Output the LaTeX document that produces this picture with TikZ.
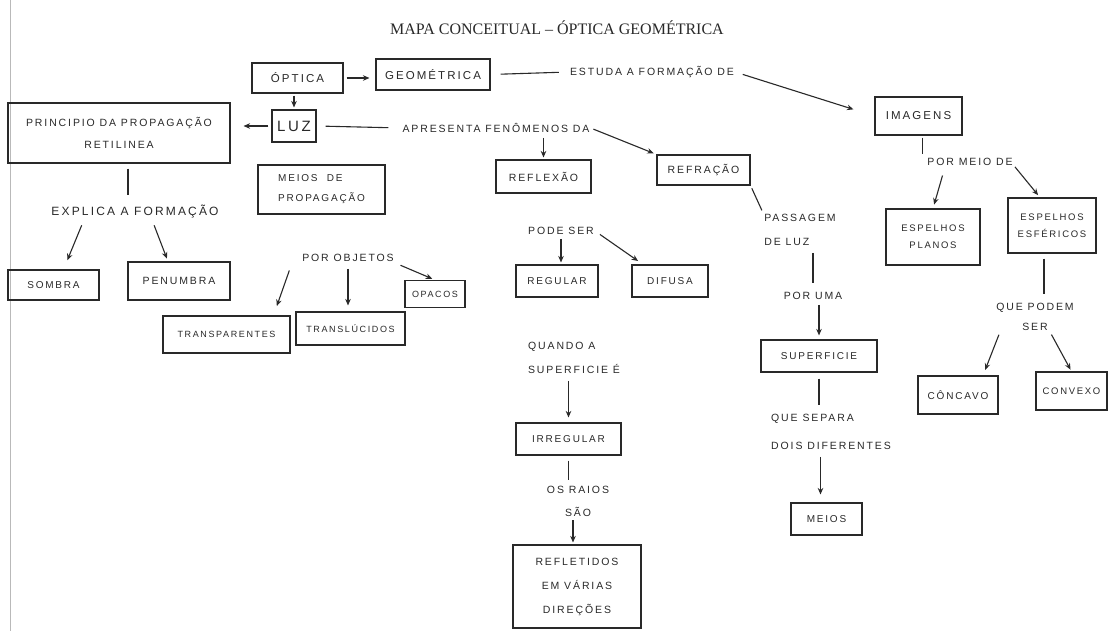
\documentclass[tikz,border=0pt]{standalone}
\usepackage{fontspec}
\setmainfont{Liberation Serif}
\newfontfamily\hand[LetterSpace=18]{Liberation Sans}
\usetikzlibrary{arrows.meta,calc}
\definecolor{ink}{gray}{0.16}
\tikzset{
  box/.style={draw=ink, line width=1.1pt, text=ink, font=\hand\fontsize{11.5}{14}\selectfont, inner sep=2pt, align=center},
  lbl/.style={text=ink, font=\hand\fontsize{10.5}{13}\selectfont, inner sep=1pt, align=center},
  lnk/.style={draw=ink, line width=1.1pt},
  arr/.style={draw=ink, line width=1.1pt, -{Stealth[length=6.5pt,width=5.5pt]}},
}
\begin{document}
\begin{tikzpicture}[x=1pt,y=-1pt]
\useasboundingbox[fill=white] (0,0) rectangle (1109,631);
\draw[gray!55, line width=1pt] (10,0) -- (10,631);
\node[font=\fontsize{16}{19}\selectfont, text=ink] (title) at (557,28) {MAPA CONCEITUAL -- ÓPTICA GEOMÉTRICA};

% boxes
\node[box, minimum width=91pt, minimum height=30pt] (optica) at (297.5,78) {ÓPTICA};
\node[box, minimum width=114pt, minimum height=31pt] (geo) at (433,74.5) {GEOMÉTRICA};
\node[box, minimum width=87pt, minimum height=38pt] (imagens) at (918.5,116) {IMAGENS};
\node[box, minimum width=44pt, minimum height=32pt, font=\hand\fontsize{15}{18}\selectfont] (luz) at (294,126) {LUZ};
\node[box, minimum width=222pt, minimum height=60pt, font=\hand\fontsize{10.5}{22}\selectfont] (principio) at (119,133) {PRINCIPIO DA PROPAGAÇÃO\\RETILINEA};
\node[box, minimum width=127pt, minimum height=49pt, font=\hand\fontsize{10}{20}\selectfont, align=left] (meiosprop) at (321.5,189.5) {MEIOS\ \ DE\\PROPAGAÇÃO};
\node[box, minimum width=95pt, minimum height=33pt, font=\hand\fontsize{10.5}{13}\selectfont] (reflexao) at (543.5,176.5) {REFLEXÃO};
\node[box, minimum width=93pt, minimum height=30pt, font=\hand\fontsize{10.5}{13}\selectfont] (refracao) at (703.5,170) {REFRAÇÃO};
\node[box, minimum width=91pt, minimum height=30pt, font=\hand\fontsize{10}{13}\selectfont] (sombra) at (53.5,285) {SOMBRA};
\node[box, minimum width=102pt, minimum height=38pt, font=\hand\fontsize{10.5}{13}\selectfont] (penumbra) at (179,281) {PENUMBRA};
\node[box, minimum width=60pt, minimum height=27pt, font=\hand\fontsize{9}{11}\selectfont] (opacos) at (435,294) {OPACOS};
\node[box, minimum width=127pt, minimum height=37pt, font=\hand\fontsize{9}{11}\selectfont] (transp) at (226.5,334.5) {TRANSPARENTES};
\node[box, minimum width=109pt, minimum height=33pt, font=\hand\fontsize{9}{11}\selectfont] (transl) at (350.5,328.5) {TRANSLÚCIDOS};
\node[box, minimum width=82pt, minimum height=32pt, font=\hand\fontsize{10}{13}\selectfont] (regular) at (557,281) {REGULAR};
\node[box, minimum width=76pt, minimum height=32pt, font=\hand\fontsize{10}{13}\selectfont] (difusa) at (670,281) {DIFUSA};
\node[box, minimum width=105pt, minimum height=32pt, font=\hand\fontsize{10}{13}\selectfont] (irregular) at (568.5,439) {IRREGULAR};
\node[box, minimum width=128pt, minimum height=83pt, font=\hand\fontsize{10.5}{24}\selectfont] (refletidos) at (577,586.5) {REFLETIDOS\\EM VÁRIAS\\DIREÇÕES};
\node[box, minimum width=116pt, minimum height=32pt, font=\hand\fontsize{10}{13}\selectfont] (superficie) at (819,356) {SUPERFICIE};
\node[box, minimum width=71pt, minimum height=32pt, font=\hand\fontsize{10}{13}\selectfont] (meios) at (826.5,519) {MEIOS};
\node[box, minimum width=94pt, minimum height=56pt, font=\hand\fontsize{9.5}{17}\selectfont] (esppl) at (933,237) {ESPELHOS\\PLANOS};
\node[box, minimum width=88pt, minimum height=55pt, font=\hand\fontsize{9.5}{17}\selectfont] (espesf) at (1052,225.5) {ESPELHOS\\ESFÉRICOS};
\node[box, minimum width=80pt, minimum height=38pt, font=\hand\fontsize{10}{13}\selectfont] (concavo) at (958,395) {CÔNCAVO};
\node[box, minimum width=71pt, minimum height=38pt, font=\hand\fontsize{9.5}{13}\selectfont] (convexo) at (1071.5,391) {CONVEXO};

% link labels
\node[lbl] (estuda) at (652,72) {ESTUDA A FORMAÇÃO DE};
\node[lbl] (apresenta) at (496,128) {APRESENTA FENÔMENOS DA};
\node[lbl, align=left, font=\hand\fontsize{10.5}{24}\selectfont] (passagem) at (800,230) {PASSAGEM\\DE LUZ};
\node[lbl] (poruma) at (813,296) {POR UMA};
\node[lbl, align=left, font=\hand\fontsize{10.5}{28}\selectfont] (quesepara) at (831,432) {QUE SEPARA\\DOIS DIFERENTES};
\node[lbl, font=\hand\fontsize{12}{14}\selectfont] (explica) at (135,212) {EXPLICA A FORMAÇÃO};
\node[lbl] (porobjetos) at (348,258) {POR OBJETOS};
\node[lbl] (podeser) at (561,231) {PODE SER};
\node[lbl, align=left, font=\hand\fontsize{10.5}{24}\selectfont] (quando) at (574,358) {QUANDO A\\SUPERFICIE É};
\node[lbl, font=\hand\fontsize{10.5}{23}\selectfont] (osraios) at (578,501) {OS RAIOS\\SÃO};
\node[lbl] (pormeio) at (970,162) {POR MEIO DE};
\node[lbl, font=\hand\fontsize{10.5}{20}\selectfont] (quepodem) at (1035,317) {QUE PODEM\\SER};

% connectors
\draw[arr, shorten <=3pt, shorten >=6pt] (optica.east) -- (geo.west |- optica.east);
\draw[arr, shorten <=2pt, shorten >=2pt] (luz.north |- optica.south) -- (luz.north);
\draw[arr, shorten <=3pt, shorten >=13pt] (luz.west) -- (principio.east |- luz.west);
\draw[lnk, shorten <=10pt, shorten >=10pt] (geo.east) -- (estuda.west);
\draw[arr, shorten <=8pt, shorten >=22pt] (estuda.east) -- (imagens.west);
\draw[lnk, shorten <=9pt, shorten >=13pt] (luz.east) -- (apresenta.west);
\draw[arr, shorten <=4pt, shorten >=2pt] (reflexao.north |- apresenta.south) -- (reflexao.north);
\draw[arr, shorten <=3pt, shorten >=3pt] (apresenta.east) -- (refracao.north west);
\draw[lnk, shorten <=3pt, shorten >=3pt] (refracao.south east) -- (passagem.north west);
\draw[lnk, shorten <=6pt, shorten >=8pt] (poruma.north |- passagem.south) -- (poruma.north);
\draw[arr, shorten <=4pt, shorten >=4pt] (superficie.north |- poruma.south) -- (superficie.north);
\draw[lnk, shorten <=6pt, shorten >=8pt] (superficie.south) -- (superficie.south |- quesepara.north);
\draw[arr, shorten <=6pt, shorten >=8pt] ([xshift=-6pt]meios.north |- quesepara.south) -- ([xshift=-6pt]meios.north);

\draw[lnk, shorten <=5pt, shorten >=9pt] ([xshift=9pt]principio.south) -- ([xshift=9pt]principio.south |- explica.north);
\draw[arr, shorten <=6pt, shorten >=10pt] ([xshift=-51pt]explica.south) -- ([xshift=10pt]sombra.north);
\draw[arr, shorten <=6pt, shorten >=3pt] ([xshift=17pt]explica.south) -- ([xshift=-11pt]penumbra.north);
\draw[arr, shorten <=8pt, shorten >=10pt] ([xshift=-56pt]porobjetos.south) -- ([xshift=47pt]transp.north);
\draw[arr, shorten <=6pt, shorten >=6pt] (porobjetos.south) -- (porobjetos.south |- transl.north);
\draw[arr, shorten <=6pt, shorten >=3pt] (porobjetos.south east) -- (opacos.north);

\draw[arr, shorten <=3pt, shorten >=2pt] ([xshift=4pt]regular.north |- podeser.south) -- ([xshift=4pt]regular.north);
\draw[arr, shorten <=6pt, shorten >=6pt] (podeser.east) -- ([xshift=-27pt]difusa.north);
\draw[arr, shorten <=6pt, shorten >=5pt] (irregular.north |- quando.south) -- (irregular.north);
\draw[lnk, shorten <=5pt, shorten >=5pt] (irregular.south) -- (irregular.south |- osraios.north);
\draw[arr, shorten <=3pt, shorten >=2pt] ([xshift=-4pt]refletidos.north |- osraios.south) -- ([xshift=-4pt]refletidos.north);

\draw[lnk, shorten <=2pt, shorten >=3pt] ([xshift=4pt]imagens.south) -- ([xshift=4pt]imagens.south |- pormeio.north);
\draw[arr, shorten <=9pt, shorten >=4pt] ([xshift=-25pt]pormeio.south) -- (esppl.north);
\draw[arr, shorten <=0pt, shorten >=3pt] ([xshift=45pt]pormeio.south) -- ([xshift=-12pt]espesf.north);
\draw[lnk, shorten <=5pt, shorten >=8pt] ([xshift=-8pt]espesf.south) -- ([xshift=-8pt]espesf.south |- quepodem.north);
\draw[arr, shorten <=3pt, shorten >=6pt] ([xshift=-35pt]quepodem.south) -- ([xshift=25pt]concavo.north);
\draw[arr, shorten <=3pt, shorten >=2pt] ([xshift=15pt]quepodem.south) -- (convexo.north);
\end{tikzpicture}
\end{document}
